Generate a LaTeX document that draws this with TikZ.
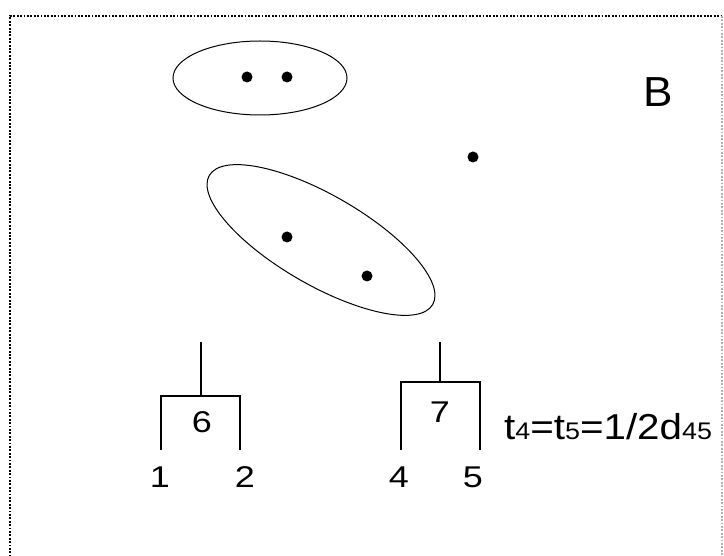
\documentclass[tikz,border=0pt]{standalone}
\usepackage{graphicx}
\usepackage{fontspec}
\setmainfont{Liberation Sans}
\newcommand{\wide}[2]{\scalebox{#1}[1]{#2}}
\newcommand{\sub}[1]{{\fontsize{24}{24}\selectfont #1}}
\begin{document}
\begin{tikzpicture}[x=1pt,y=-1pt,
  frame/.style={line width=2.2pt,dash pattern=on 1.9pt off 1.5pt},
  pt/.style={circle,fill=black,inner sep=0pt,minimum size=11pt},
  blob/.style={draw,line width=1pt},
  branch/.style={line width=1.4pt},
  lbl/.style={font=\fontsize{30}{30}\selectfont,inner sep=0pt,anchor=base}]
\useasboundingbox (0,0) rectangle (724,556);
% dotted frame
\draw[frame] (10,560) -- (10,16) -- (722,16);
\draw[frame,gray!60,line width=1.4pt] (722,16) -- (722,560);
% clusters
\draw[blob] (260,78) ellipse [x radius=87, y radius=37];
\draw[blob] (321,240) ellipse [x radius=129, y radius=45, rotate=-30];
\node[pt] (p1) at (247,77) {};
\node[pt] (p2) at (287,77) {};
\node[pt] (p3) at (473,157) {};
\node[pt] (p4) at (287,237) {};
\node[pt] (p5) at (367,276) {};
\node[font=\fontsize{42}{42}\selectfont,inner sep=0pt,anchor=base] (B) at (658,107) {\wide{1.05}{B}};
% dendrogram 6
\coordinate (r6) at (201,342);
\coordinate (j6) at (201,396);
\coordinate (a6) at (161,396);
\coordinate (b6) at (240,396);
\coordinate (l1) at (161,450);
\coordinate (l2) at (240,450);
\draw[branch] (r6) -- (j6);
\draw[branch] (l1) -- (a6) -- (b6) -- (l2);
\node[lbl] (n6) at (202,433) {\wide{1.2}{6}};
\node[lbl] (n1) at (160,488) {\wide{1.2}{1}};
\node[lbl] (n2) at (245,488) {\wide{1.2}{2}};
% dendrogram 7
\coordinate (r7) at (440,342);
\coordinate (j7) at (440,382);
\coordinate (a7) at (401,382);
\coordinate (b7) at (480,382);
\coordinate (l4) at (401,450);
\coordinate (l5) at (480,450);
\draw[branch] (r7) -- (j7);
\draw[branch] (l4) -- (a7) -- (b7) -- (l5);
\node[lbl] (n7) at (440,423) {\wide{1.2}{7}};
\node[lbl] (n4) at (399,488) {\wide{1.2}{4}};
\node[lbl] (n5) at (473,488) {\wide{1.2}{5}};
\node[lbl,anchor=base west,font=\fontsize{36}{36}\selectfont] (eq) at (504,440)
  {\wide{1.12}{t\sub{4}=t\sub{5}=1/2d\sub{45}}};
\end{tikzpicture}
\end{document}
